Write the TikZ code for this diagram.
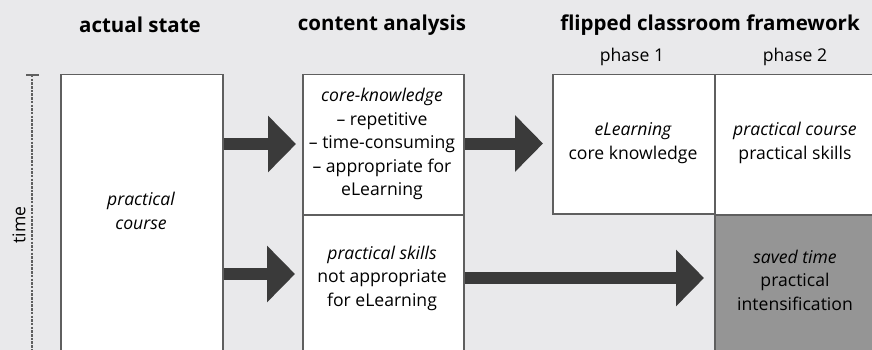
\documentclass[tikz,border=0pt]{standalone}
\usepackage{fontspec}
\setmainfont{Open Sans}
\usetikzlibrary{arrows.meta}
\definecolor{bg}{RGB}{233,233,235}
\definecolor{edge}{RGB}{95,95,95}
\definecolor{arr}{RGB}{58,58,58}
\definecolor{saved}{RGB}{149,149,149}
\begin{document}
\begin{tikzpicture}[x=1pt,y=-1pt,
  box/.style={draw=edge, line width=1.5pt, fill=white, rectangle, inner sep=0pt, anchor=north west},
  txt/.style={align=center, inner sep=0pt, font=\fontsize{17.6}{23.5}\selectfont},
  ttl/.style={inner sep=0pt, font=\fontsize{20.5}{24}\selectfont\bfseries},
  bigarrow/.style={draw=arr, line width=12pt, -{Triangle[length=28pt,width=55pt]}}
]
\fill[bg] (0,0) rectangle (872,350);
\useasboundingbox (0,0) rectangle (872,350);
\clip (0,0) rectangle (872,350);

% titles
\node[ttl] (t1) at (140,25) {actual state};
\node[ttl] (t2) at (382,25) {content analysis};
\node[ttl] (t3) at (710,25) {flipped classroom framework};
\node[txt] (p1) at (632,57) {phase 1};
\node[txt] (p2) at (795,57) {phase 2};

% time axis
\coordinate (ttop) at (32,75);
\coordinate (tbot) at (32,360);
\coordinate (tickl) at (26,75);
\coordinate (tickr) at (39,75);
\draw[draw=edge, line width=1.2pt, dash pattern=on 2.5pt off 1.2pt] (ttop) -- (tbot);
\draw[draw=edge, line width=1.3pt] (tickl) -- (tickr);
\node[txt, rotate=90] (time) at (19,225) {time};

% boxes
\node[box, minimum width=162pt, minimum height=290pt] (actual) at (60,74) {};
\node[box, minimum width=161pt, minimum height=140pt] (core) at (302,74) {};
\node[box, minimum width=161pt, minimum height=150pt] (skills) at (302,214) {};
\node[box, minimum width=162pt, minimum height=139pt] (phaseA) at (552,74) {};
\node[box, minimum width=170pt, minimum height=140pt] (phaseB) at (714,74) {};
\node[box, fill=saved, minimum width=170pt, minimum height=150pt] (savedbox) at (714,214) {};

% texts
\node[txt] (actualtxt) at (141,211) {\itshape practical\\\itshape course};
\node[txt] (coretxt) at (382,144) {\itshape core-knowledge\\– repetitive\\– time-consuming\\– appropriate for\\eLearning};
\node[txt] (skillstxt) at (382,278) {\itshape practical skills\\not appropriate\\for eLearning};
\node[txt] (phaseAtxt) at (633,143) {\itshape eLearning\\core knowledge};
\node[txt] (phaseBtxt) at (795,143) {\itshape practical course\\practical skills};
\node[txt] (savedtxt) at (795,280) {\itshape saved time\\practical\\intensification};

% arrows
\draw[bigarrow, shorten >=6pt] (actual.east |- 0,144) -- (core.west |- 0,144);
\draw[bigarrow, shorten >=7pt] (actual.east |- 0,274) -- (skills.west |- 0,274);
\draw[bigarrow, shorten >=9pt] (core.east |- 0,143.5) -- (phaseA.west |- 0,143.5);
\draw[bigarrow, shorten >=10pt] (skills.east |- 0,278) -- (savedbox.west |- 0,278);
\end{tikzpicture}
\end{document}
